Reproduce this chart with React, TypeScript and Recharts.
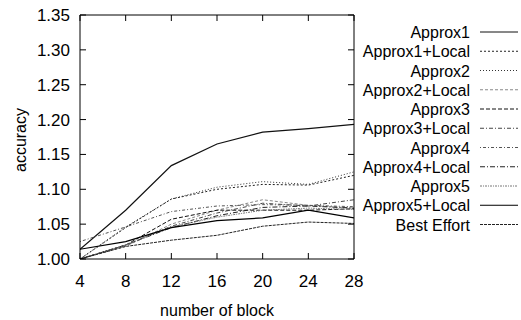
import React from 'react';
import { LineChart, Line, XAxis, YAxis } from 'recharts';

// number of blocks on the x axis
const blocks = [4, 8, 12, 16, 20, 24, 28];

// accuracy per series
const approx1 = [1.014, 1.070, 1.134, 1.165, 1.182, 1.187, 1.193];
const approx1Local = [1.0, 1.045, 1.086, 1.100, 1.107, 1.106, 1.120];
const approx2 = [1.0, 1.046, 1.086, 1.103, 1.111, 1.107, 1.125];
const approx2Local = [1.0, 1.018, 1.050, 1.070, 1.085, 1.077, 1.073];
const approx3 = [1.0, 1.020, 1.057, 1.070, 1.070, 1.070, 1.072];
const approx3Local = [1.0, 1.020, 1.047, 1.066, 1.080, 1.076, 1.085];
const approx4 = [1.025, 1.046, 1.068, 1.076, 1.078, 1.077, 1.075];
const approx4Local = [1.0, 1.020, 1.045, 1.062, 1.074, 1.076, 1.073];
const approx5 = [1.0, 1.020, 1.046, 1.060, 1.070, 1.073, 1.071];
const approx5Local = [1.014, 1.025, 1.045, 1.055, 1.059, 1.070, 1.059];
const bestEffort = [1.0, 1.018, 1.027, 1.034, 1.047, 1.053, 1.051];

const seriesNames = [
  'Approx1', 'Approx1+Local', 'Approx2', 'Approx2+Local', 'Approx3', 'Approx3+Local',
  'Approx4', 'Approx4+Local', 'Approx5', 'Approx5+Local', 'Best Effort',
];
const seriesValues = [
  approx1, approx1Local, approx2, approx2Local, approx3, approx3Local,
  approx4, approx4Local, approx5, approx5Local, bestEffort,
];

const yTicks = [1.0, 1.05, 1.1, 1.15, 1.2, 1.25, 1.3, 1.35];

// gnuplot-ish monochrome line styles
const lineStyles = [
  { stroke: '#111', dash: undefined },
  { stroke: '#222', dash: '2 2' },
  { stroke: '#333', dash: '1 2' },
  { stroke: '#888', dash: '3 2' },
  { stroke: '#111', dash: '4 2' },
  { stroke: '#444', dash: '4 2 1 2' },
  { stroke: '#555', dash: '1 2 3 2' },
  { stroke: '#222', dash: '5 2 1 2' },
  { stroke: '#777', dash: '2 1 1 1' },
  { stroke: '#000', dash: undefined },
  { stroke: '#222', dash: '3 1' },
];

const data = blocks.map((b, i) => {
  const row: Record<string, number> = { block: b };
  seriesValues.forEach((vals, k) => { row[`s${k}`] = vals[i]; });
  return row;
});

const FONT = '"Liberation Sans", Arial, Helvetica, sans-serif';

const LeftTick = ({ x, y, payload }: any) => (
  <g>
    <line x1={x} y1={y} x2={x + 6} y2={y} stroke="#000" />
    <text x={x - 10} y={y} dy={6} textAnchor="end" fontSize={17} fontFamily={FONT} fill="#000">
      {Number(payload.value).toFixed(2)}
    </text>
  </g>
);

const RightTick = ({ x, y }: any) => (
  <line x1={x} y1={y} x2={x - 6} y2={y} stroke="#000" />
);

const BottomTick = ({ x, y, payload }: any) => (
  <g>
    <line x1={x} y1={y} x2={x} y2={y - 6} stroke="#000" />
    <text x={x} y={y + 28} textAnchor="middle" fontSize={17} fontFamily={FONT} fill="#000">
      {payload.value}
    </text>
  </g>
);

const TopTick = ({ x, y }: any) => (
  <line x1={x} y1={y} x2={x} y2={y + 6} stroke="#000" />
);

const YLabel = ({ viewBox }: any) => {
  const cx = viewBox.x + 20;
  const cy = viewBox.y + viewBox.height / 2 + 3;
  return (
    <text x={cx} y={cy} transform={`rotate(-90 ${cx} ${cy})`} textAnchor="middle" dy={6}
      fontSize={16} fontFamily={FONT} fill="#000">
      accuracy
    </text>
  );
};

const XLabel = ({ viewBox }: any) => (
  <text x={viewBox.x + viewBox.width / 2} y={viewBox.y + viewBox.height - 4} textAnchor="middle"
    fontSize={16} fontFamily={FONT} fill="#000">
    number of block
  </text>
);

const LegendBox = () => (
  <svg width={521} height={320} style={{ position: 'absolute', left: 0, top: 0, pointerEvents: 'none' }}>
    {seriesNames.map((name, i) => {
      const cy = 32 + i * 19.25;
      const st = lineStyles[i];
      return (
        <g key={name}>
          <text x={470} y={cy} dy={6} textAnchor="end" fontSize={16} fontFamily={FONT} fill="#000">
            {name}
          </text>
          <line x1={480} y1={cy} x2={518} y2={cy} stroke={st.stroke} strokeDasharray={st.dash} />
        </g>
      );
    })}
  </svg>
);

export default function App() {
  return (
    <div style={{ position: 'absolute', left: 0, top: 0, width: 521, height: 320, background: '#fff' }}>
      <LineChart width={521} height={320} data={data} margin={{ top: 14, right: 166, bottom: 0, left: 0 }}>
        <XAxis dataKey="block" type="number" domain={[4, 28]} ticks={blocks} height={61}
          tickLine={false} tickSize={0} tickMargin={0} tick={<BottomTick />}
          axisLine={{ stroke: '#000' }} label={<XLabel />} allowDataOverflow />
        <XAxis xAxisId="top" orientation="top" dataKey="block" type="number" domain={[4, 28]} ticks={blocks}
          height={1} tickLine={false} tickSize={0} tickMargin={0} tick={<TopTick />}
          axisLine={{ stroke: '#000' }} allowDataOverflow />
        <YAxis type="number" domain={[1, 1.35]} ticks={yTicks} width={80}
          tickLine={false} tickSize={0} tickMargin={0} tick={<LeftTick />}
          axisLine={{ stroke: '#000' }} label={<YLabel />} allowDataOverflow />
        <YAxis yAxisId="right" orientation="right" type="number" domain={[1, 1.35]} ticks={yTicks} width={1}
          tickLine={false} tickSize={0} tickMargin={0} tick={<RightTick />}
          axisLine={{ stroke: '#000' }} allowDataOverflow />
        {seriesNames.map((name, k) => (
          <Line key={name} name={name} dataKey={`s${k}`} type="linear" dot={false}
            stroke={lineStyles[k].stroke} strokeDasharray={lineStyles[k].dash}
            strokeWidth={k === 0 || k === 9 ? 1.2 : 1} isAnimationActive={false} />
        ))}
      </LineChart>
      <LegendBox />
    </div>
  );
}
